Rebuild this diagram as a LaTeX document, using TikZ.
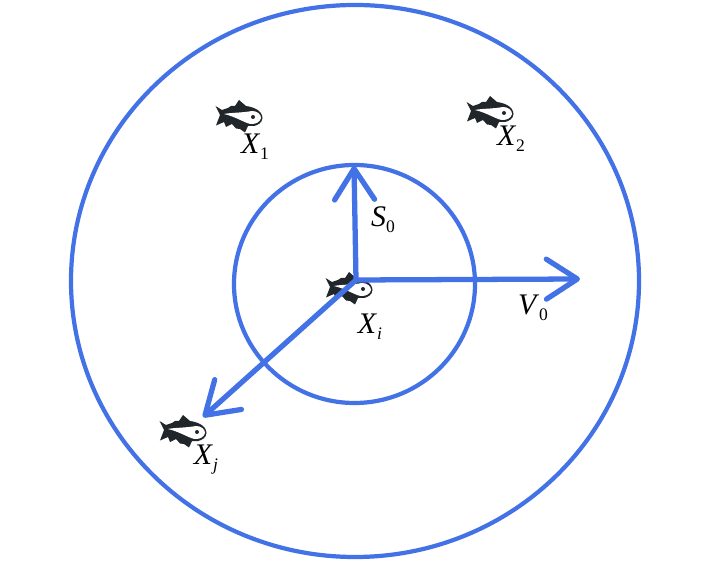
\documentclass[tikz,border=0pt]{standalone}
\usepackage{fontspec}
\setmainfont{Liberation Serif}
\usetikzlibrary{arrows.meta}
\definecolor{ringblue}{RGB}{66,114,230}
\definecolor{fishdark}{RGB}{32,38,42}
\tikzstyle{ring}=[draw=ringblue,line width=2.4pt]
\tikzstyle{vec}=[draw=ringblue,line width=3pt,-{Straight Barb[length=0.62cm,width=0.8cm,line width=3pt,round]}]
\tikzstyle{lab}=[inner sep=0pt,font=\fontsize{17}{17}\selectfont]
\newcommand{\fishlab}[2]{\textit{#1}\raisebox{-0.45ex}{\fontsize{10}{10}\selectfont #2}}
\tikzset{
  fish/.pic={
    \begin{scope}[scale=0.02]
      \fill[fishdark] (-23.5,10) -- (-17,6) -- (-11,8) -- (-8,10) -- (-4,10) -- (0,16) -- (7,10)
        .. controls (14,9) and (23,6) .. (23.5,-2) .. controls (23,-7) and (19,-9) .. (15,-10)
        -- (9,-10) -- (6,-16.5) -- (1,-13) -- (-3,-12.5) -- (-7,-8) -- (-13,-11) -- (-15,-6)
        -- (-23,-9.5) -- (-19,1) -- cycle;
      \fill[white] (-15,2) .. controls (-8,3.5) and (2,3) .. (13,5) .. controls (18,5) and (22,2) .. (22,-2)
        .. controls (21,-6) and (17,-8) .. (13,-8) .. controls (8,-8.5) and (-2,-1) .. (-15,2) -- cycle;
      \fill[fishdark] (14,-1) circle (2);
    \end{scope}
  }
}
\begin{document}
\begin{tikzpicture}
  \useasboundingbox (0,0) rectangle (14.18,11.32);
  % rings
  \draw [ring] (7.10,5.70) ellipse (5.68 and 5.52);
  \draw [ring] (7.09,5.64) ellipse (2.41 and 2.38);
  % fish
  \pic at (4.78,9.00) {fish};
  \pic at (9.80,9.08) {fish};
  \pic at (6.98,5.56) {fish};
  \pic at (3.66,2.70) {fish};
  % vectors
  \coordinate (centre) at (7.12,5.72);
  \coordinate (tipS) at (7.08,8.00);
  \coordinate (tipV) at (11.60,5.74);
  \coordinate (tipJ) at (4.06,2.98);
  \draw [vec] (centre) -- (tipS);
  \draw [vec] (centre) -- (tipV);
  \draw [vec] (centre) -- (tipJ);
  % labels
  \node [lab] (labX1) at (5.10,8.38) {\fishlab{X}{1}};
  \node [lab] (labX2) at (10.22,8.54) {\fishlab{X}{2}};
  \node [lab] (labS0) at (7.66,6.92) {\fishlab{S}{0}};
  \node [lab] (labV0) at (10.66,5.16) {\fishlab{V}{0}};
  \node [lab] (labXi) at (7.40,4.78) {\fishlab{X}{\textit{i}}};
  \node [lab] (labXj) at (4.12,2.12) {\fishlab{X}{\textit{j}}};
\end{tikzpicture}
\end{document}
